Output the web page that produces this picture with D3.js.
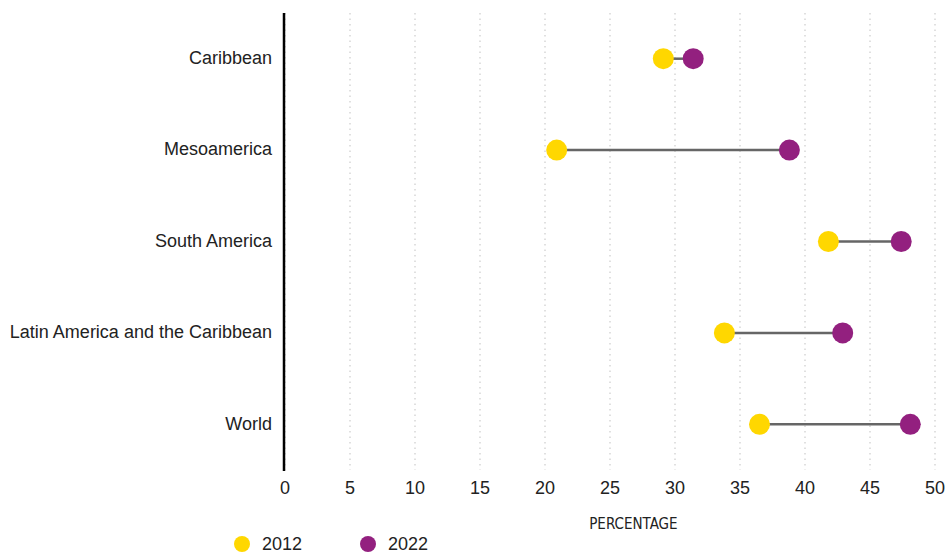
<!DOCTYPE html>
<html lang="en">
<head>
  <meta charset="UTF-8" />
  <title>Dumbbell 2012 vs 2022</title>
  <style>
    body {
      margin: 0;
      background-color: #fff;
      font-family: "Liberation Sans", Arial, sans-serif;
    }

    .grid line {
      stroke: #d6d6d6;
      stroke-width: 1.5;
      stroke-dasharray: 1.5 4;
    }

    .cat-label {
      fill: #222;
      font-size: 18px;
    }

    .tick-label {
      fill: #222;
      font-size: 18px;
    }

    .axis-title {
      fill: #222;
      font-size: 15px;
      font-family: "DejaVu Sans Condensed", "Liberation Sans", sans-serif;
    }
  </style>
</head>

<body>
  <svg width="948" height="553"></svg>

  <script src="https://d3js.org/d3.v7.min.js"></script>
  <script>
    const regions = ["Caribbean", "Mesoamerica", "South America", "Latin America and the Caribbean", "World"];
    const values2012 = [29.1, 20.9, 41.8, 33.8, 36.5];
    const values2022 = [31.4, 38.8, 47.4, 42.9, 48.1];
    const xTicks = [0, 5, 10, 15, 20, 25, 30, 35, 40, 45, 50];
    const years = ["2012", "2022"];
    const colors = ["#FFD700", "#93207F"];

    const svg = d3.select("svg");

    const x = d3.scaleLinear()
      .domain([0, 50])
      .range([285, 935]);

    const y = d3.scaleBand()
      .domain(regions)
      .range([13, 470]);

    // dotted gridlines
    svg.append("g")
      .attr("class", "grid")
      .selectAll("line")
      .data(xTicks)
      .enter()
      .append("line")
      .attr("x1", d => x(d))
      .attr("x2", d => x(d))
      .attr("y1", 13)
      .attr("y2", 470);

    // y axis line
    svg.append("line")
      .attr("x1", x(0) - 1)
      .attr("x2", x(0) - 1)
      .attr("y1", 13)
      .attr("y2", 471)
      .attr("stroke", "#000")
      .attr("stroke-width", 2.5);

    // category labels
    svg.selectAll(".cat-label")
      .data(regions)
      .enter()
      .append("text")
      .attr("class", "cat-label")
      .attr("x", 272)
      .attr("y", d => y(d) + y.bandwidth() / 2 - 1)
      .attr("dy", "0.35em")
      .attr("text-anchor", "end")
      .text(d => d);

    // tick labels
    svg.selectAll(".tick-label")
      .data(xTicks)
      .enter()
      .append("text")
      .attr("class", "tick-label")
      .attr("x", d => x(d))
      .attr("y", 494)
      .attr("text-anchor", "middle")
      .text(d => d);

    svg.append("text")
      .attr("class", "axis-title")
      .attr("x", x(26.8))
      .attr("y", 529)
      .attr("text-anchor", "middle")
      .text("PERCENTAGE");

    const rows = regions.map((r, i) => ({ region: r, a: values2012[i], b: values2022[i] }));

    // connectors
    svg.selectAll(".conn")
      .data(rows)
      .enter()
      .append("line")
      .attr("x1", d => x(d.a))
      .attr("x2", d => x(d.b))
      .attr("y1", d => y(d.region) + y.bandwidth() / 2)
      .attr("y2", d => y(d.region) + y.bandwidth() / 2)
      .attr("stroke", "#666")
      .attr("stroke-width", 2.5);

    [values2012, values2022].forEach((vals, k) => {
      svg.selectAll(".dot" + k)
        .data(regions)
        .enter()
        .append("circle")
        .attr("cx", (d, i) => x(vals[i]))
        .attr("cy", d => y(d) + y.bandwidth() / 2)
        .attr("r", 10.5)
        .attr("fill", colors[k]);
    });

    // legend
    const legend = svg.selectAll(".legend")
      .data(years)
      .enter()
      .append("g")
      .attr("transform", (d, i) => `translate(${242 + i * 126},544)`);

    legend.append("circle")
      .attr("r", 8)
      .attr("fill", (d, i) => colors[i]);

    legend.append("text")
      .attr("class", "tick-label")
      .attr("x", 20)
      .attr("dy", "0.35em")
      .text(d => d);
  </script>
</body>
</html>
